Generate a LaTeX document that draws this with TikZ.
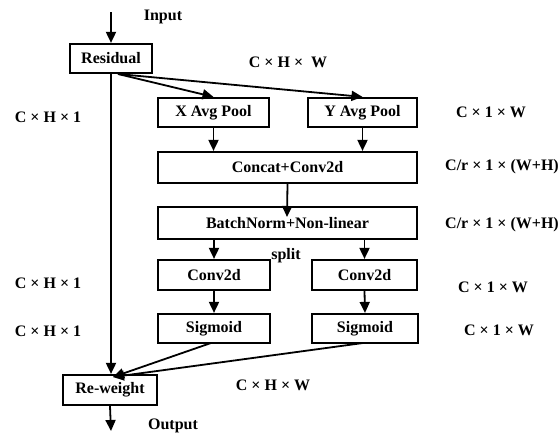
\documentclass[tikz,border=0pt]{standalone}
\usepackage{fontspec}
\setmainfont{Liberation Serif}
\usetikzlibrary{arrows.meta}
\begin{document}
\begin{tikzpicture}[x=1pt,y=-1pt,
 box/.style={draw, line width=2.2pt, inner sep=0pt, font=\fontsize{16}{16}\selectfont\bfseries},
 lab/.style={font=\fontsize{16}{16}\selectfont\bfseries, inner sep=0pt},
 arr/.style={line width=1.8pt, -{Triangle[length=11pt,width=10pt]}},
]
\useasboundingbox (0,0) rectangle (559,434);
\node[box, minimum width=82pt, minimum height=29pt] (res) at (111,58.5) {Residual};
\node[box, minimum width=111pt, minimum height=29pt] (xp) at (213.5,112.5) {X Avg Pool};
\node[box, minimum width=109pt, minimum height=29pt] (yp) at (362.5,112.5) {Y Avg Pool};
\node[box, minimum width=259pt, minimum height=31pt] (cc) at (287.5,167.5) {Concat+Conv2d};
\node[box, minimum width=259pt, minimum height=32pt] (bn) at (287.5,223) {BatchNorm+Non-linear};
\node[box, minimum width=112pt, minimum height=30pt] (c1) at (214,275) {Conv2d};
\node[box, minimum width=105pt, minimum height=30pt] (c2) at (364.5,275) {Conv2d};
\node[box, minimum width=112pt, minimum height=29pt] (s1) at (214,328.5) {Sigmoid};
\node[box, minimum width=106pt, minimum height=29pt] (s2) at (365,328.5) {Sigmoid};
\node[box, minimum width=94pt, minimum height=30pt] (rw) at (110,390) {Re-weight};

\node[lab] (tin) at (163,17) {Input};
\node[lab] (tout) at (173,426) {Output};
\node[lab] (l1) at (288,62) {C × H ×\ \ W};
\node[lab] (l2) at (48,117) {C × H × 1};
\node[lab] (l3) at (491,112) {C × 1 × W};
\node[lab] (l4) at (502,167) {C/r × 1 × (W+H)};
\node[lab] (l5) at (502,225) {C/r × 1 × (W+H)};
\node[lab] (l6) at (48,283) {C × H × 1};
\node[lab] (l7) at (493,287) {C × 1 × W};
\node[lab] (l8) at (48,331) {C × H × 1};
\node[lab] (l9) at (499,330) {C × 1 × W};
\node[lab] (l10) at (273,385) {C × H × W};
\node[lab] (split) at (286,256) {split};

\coordinate (inp) at (111,12);
\coordinate (rs) at (118,74);
\coordinate (bnin) at (287,217);
\coordinate (rwin) at (113,377);
\coordinate (outp) at (111,431);
\coordinate (s1o) at (211,343);
\coordinate (s2o) at (363,343);

\draw[arr] (inp) -- (res.north);
\draw[arr] (rs) -- (xp.north);
\draw[arr] (rs) -- (yp.north);
\draw[arr] (xp.south) -- (xp.south |- cc.north);
\draw[arr] (yp.south) -- (yp.south |- cc.north);
\draw[arr] (cc.south) -- (bnin);
\draw[arr] (bn.south -| c1.north) -- (c1.north);
\draw[arr] (bn.south -| c2.north) -- (c2.north);
\draw[arr] (c1.south) -- (s1.north);
\draw[arr] (c2.south) -- (s2.north);
\draw[arr] (res.south) -- (res.south |- rw.north);
\draw[arr] (s1o) -- (rwin);
\draw[arr] (s2o) -- (rwin);
\draw[arr] (rw.south) -- (outp);
\end{tikzpicture}
\end{document}
